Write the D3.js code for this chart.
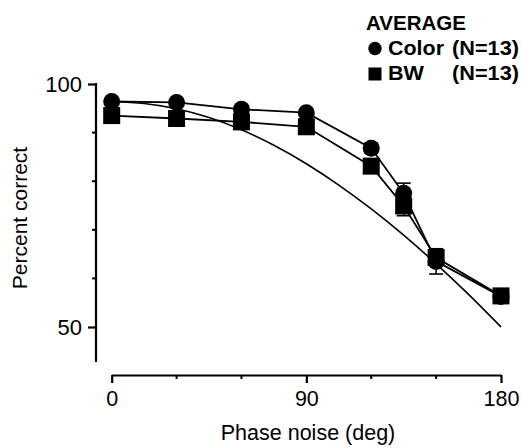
<!DOCTYPE html>
<html>
<head>
<meta charset="utf-8">
<script src="https://cdn.jsdelivr.net/npm/d3@7"></script>
<style>
  html, body { margin: 0; padding: 0; background: #fff; }
  svg { display: block; }
  text { font-family: "Liberation Sans", Arial, Helvetica, sans-serif; fill: #000; }
</style>
</head>
<body>
<svg id="chart" width="522" height="448"></svg>
<script>
// ---- data ----
const phaseNoise = [0, 30, 60, 90, 120, 135, 150, 180];
const colorPct   = [96.4, 96.2, 94.8, 94.1, 86.8, 77.5, 63.5, 56.3];
const colorErr   = [0.5, 0.5, 0.6, 0.6, 1.0, 2.1, 2.6, 0.8];
const bwPct      = [93.5, 92.9, 92.2, 91.2, 83.1, 74.9, 64.3, 56.4];
const bwErr      = [0.6, 0.6, 0.7, 0.8, 1.2, 2.0, 1.5, 0.8];
const fitX       = [0, 15, 30, 45, 60, 75, 90, 105, 120, 135, 150, 165, 180];
const fitY       = [96.4, 96.0, 94.9, 93.1, 90.6, 87.4, 83.6, 79.2, 74.3, 68.9, 63.0, 56.7, 50.0];
const xTicksMajor = [0, 90, 180];
const xTicksMinor = [30, 60, 120, 150];
const yTicksMajor = [50, 100];
const yTicksMinor = [60, 70, 80, 90];
const legendTitle = "AVERAGE";
const legendNames = ["Color", "BW"];
const legendN = ["(N=13)", "(N=13)"];

const svg = d3.select("#chart");
const x = d3.scaleLinear().domain([0, 180]).range([111.7, 501]);
const y = d3.scaleLinear().domain([50, 100]).range([327, 84]);

// ---- axes ----
const xAxisY = 375;
const yAxisX = 96;
const gx = svg.append("g").attr("transform", `translate(0,${xAxisY})`)
  .call(d3.axisBottom(x).tickValues(xTicksMajor).tickSize(8).tickSizeOuter(0).tickPadding(6).tickFormat(d3.format("d")));
gx.append("g").selectAll("line").data(xTicksMinor).join("line")
  .attr("x1", d => x(d)).attr("x2", d => x(d)).attr("y1", 0).attr("y2", 4)
  .attr("stroke", "#000").attr("stroke-width", 2);
gx.select(".domain").attr("stroke-width", 2.2);
gx.selectAll(".tick line").attr("stroke-width", 2.2);
gx.selectAll(".tick text").style("font-size", "21.5px").attr("dy", "0.78em");

const gy = svg.append("g").attr("transform", `translate(${yAxisX},0)`);
gy.append("line").attr("x1", 0).attr("x2", 0).attr("y1", y(100) - 1).attr("y2", 362)
  .attr("stroke", "#000").attr("stroke-width", 2.2);
gy.call(d3.axisLeft(y).tickValues(yTicksMajor).tickSize(8).tickSizeOuter(0).tickPadding(6).tickFormat(d3.format("d")));
gy.select(".domain").remove();
gy.selectAll(".tick line").attr("stroke-width", 2.2);
gy.selectAll(".tick text").style("font-size", "22px").attr("dy", "0.32em");
gy.append("g").selectAll("line").data(yTicksMinor).join("line")
  .attr("x1", -4).attr("x2", 0).attr("y1", d => y(d)).attr("y2", d => y(d))
  .attr("stroke", "#000").attr("stroke-width", 2);

// axis titles
svg.append("text").attr("x", 308).attr("y", 440).attr("text-anchor", "middle")
  .style("font-size", "21.5px").text("Phase noise (deg)");
svg.append("text").attr("transform", "translate(27,218) rotate(-90)").attr("text-anchor", "middle")
  .style("font-size", "21px").text("Percent correct");

// ---- fit curve ----
const fitPts = fitX.map((d, i) => [d, fitY[i]]);
svg.append("path").datum(fitPts)
  .attr("d", d3.line().x(d => x(d[0])).y(d => y(d[1])).curve(d3.curveNatural))
  .attr("fill", "none").attr("stroke", "#000").attr("stroke-width", 1.6);

// ---- series ----
const series = [
  { name: "Color", vals: colorPct, err: colorErr, shape: "circle" },
  { name: "BW", vals: bwPct, err: bwErr, shape: "square" }
];
const line = d3.line().x(d => x(d[0])).y(d => y(d[1]));
series.forEach(s => {
  const pts = phaseNoise.map((d, i) => [d, s.vals[i], s.err[i]]);
  svg.append("path").datum(pts).attr("d", line)
    .attr("fill", "none").attr("stroke", "#000").attr("stroke-width", 1.8);
  const eb = svg.append("g");
  pts.forEach(p => {
    const cx = x(p[0]), yt = y(p[1] + p[2]), yb = y(p[1] - p[2]);
    eb.append("line").attr("x1", cx).attr("x2", cx).attr("y1", yt).attr("y2", yb)
      .attr("stroke", "#000").attr("stroke-width", 1.6);
    [yt, yb].forEach(yy => eb.append("line").attr("x1", cx - 7).attr("x2", cx + 7)
      .attr("y1", yy).attr("y2", yy).attr("stroke", "#000").attr("stroke-width", 1.6));
  });
});
series.forEach(s => {
  const pts = phaseNoise.map((d, i) => [d, s.vals[i]]);
  if (s.shape === "circle") {
    svg.append("g").selectAll("circle").data(pts).join("circle")
      .attr("cx", d => x(d[0])).attr("cy", d => y(d[1])).attr("r", 8.5).attr("fill", "#000");
  } else {
    svg.append("g").selectAll("rect").data(pts).join("rect")
      .attr("x", d => x(d[0]) - 8.5).attr("y", d => y(d[1]) - 8.5)
      .attr("width", 17).attr("height", 17).attr("fill", "#000");
  }
});

// ---- legend ----
svg.append("text").attr("x", 366).attr("y", 29.5).style("font-size", "20.5px")
  .style("font-weight", "bold").text(legendTitle);
const legY = [55, 80];
svg.append("circle").attr("cx", 375).attr("cy", 48.5).attr("r", 6.7).attr("fill", "#000");
svg.append("rect").attr("x", 368.5).attr("y", 67.5).attr("width", 13).attr("height", 13).attr("fill", "#000");
const nameLen = [56, 36];
legendNames.forEach((n, i) => {
  svg.append("text").attr("x", 388).attr("y", legY[i]).style("font-size", "20px")
    .style("font-weight", "bold").attr("textLength", nameLen[i]).attr("lengthAdjust", "spacingAndGlyphs").text(n);
  svg.append("text").attr("x", 452).attr("y", legY[i]).style("font-size", "20px")
    .style("font-weight", "bold").attr("textLength", 67).attr("lengthAdjust", "spacingAndGlyphs").text(legendN[i]);
});
</script>
</body>
</html>
